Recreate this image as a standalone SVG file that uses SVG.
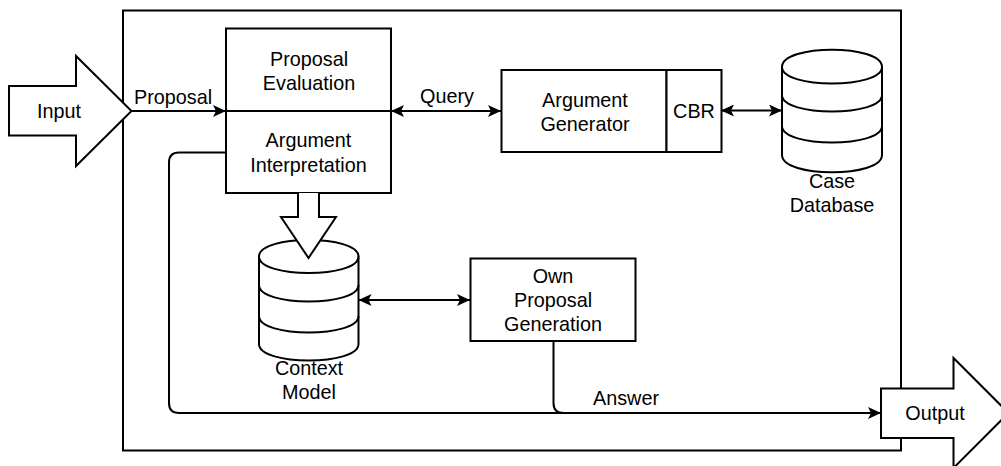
<svg xmlns="http://www.w3.org/2000/svg" width="1001" height="466" viewBox="0 0 1001 466">
<defs>
<style>
.s{fill:#fff;stroke:#000;stroke-width:2}
.n{fill:none;stroke:#000;stroke-width:2}
.c{fill:none;stroke:#000;stroke-width:2}
text{font-family:"Liberation Sans",Arial,sans-serif;font-size:19.8px;fill:#000;text-anchor:middle}
</style>
<marker id="endA" viewBox="0 0 13 12" refX="13" refY="6" markerWidth="13" markerHeight="12" markerUnits="userSpaceOnUse" orient="auto"><path d="M13 6L0 12L3 6L0 0Z" fill="#000"/></marker>
<marker id="startA" viewBox="0 0 13 12" refX="0" refY="6" markerWidth="13" markerHeight="12" markerUnits="userSpaceOnUse" orient="auto"><path d="M0 6L13 0L10 6L13 12Z" fill="#000"/></marker>
</defs>
<rect id="frame" class="s" x="123" y="10.5" width="778" height="440"/>
<g id="connectors">
<path class="c" marker-end="url(#endA)" d="M132 111H226"/>
<path class="c" marker-start="url(#startA)" marker-end="url(#endA)" d="M391 111H501"/>
<path class="c" marker-start="url(#startA)" marker-end="url(#endA)" d="M721 110.500H782"/>
<path class="c" marker-start="url(#startA)" marker-end="url(#endA)" d="M358.500 300H470"/>
<path class="c" marker-end="url(#endA)" d="M553.500 341V403Q553.500 413 563.500 413H881"/>
<path class="c" d="M226 152.500H179Q169 152.500 169 162.500V403Q169 413 179 413H563"/>
</g>
<text x="173" y="104">Proposal</text>
<text x="447" y="103">Query</text>
<text x="626" y="405">Answer</text>
<g id="input"><path class="s" d="M9 86H76V56L131.500 111L76 166V135.500H9Z"/><text x="59" y="118">Input</text></g>
<g id="proposal-evaluation"><rect class="s" x="226" y="28.500" width="165" height="82.500"/><text x="309" y="66">Proposal</text><text x="309" y="89.500">Evaluation</text></g>
<g id="argument-interpretation"><rect class="s" x="226" y="111" width="165" height="82"/><text x="308.500" y="147">Argument</text><text x="308.500" y="171.500">Interpretation</text></g>
<g id="argument-generator"><rect class="s" x="501.500" y="70" width="165" height="82"/><text x="585" y="107">Argument</text><text x="585" y="131">Generator</text></g>
<g id="cbr"><rect class="s" x="666.500" y="70" width="55" height="82"/><text x="694" y="118">CBR</text></g>
<g id="case-database">
<path class="s" d="M782 67C782 44 882 44 882 67V155C882 178 782 178 782 155Z"/>
<path class="n" d="M782 67C782 89 882 89 882 67M782 95C782 117 882 117 882 95M782 126C782 148 882 148 882 126"/>
<text x="832" y="188">Case</text><text x="832" y="212">Database</text>
</g>
<g id="context-model">
<path class="s" d="M259 256.500C259 234.500 358.500 234.500 358.500 256.500V344C358.500 366 259 366 259 344Z"/>
<path class="n" d="M259 256.500C259 278.500 358.500 278.500 358.500 256.500M259 285C259 307 358.500 307 358.500 285M259 316C259 338 358.500 338 358.500 316"/>
<text x="309" y="375">Context</text><text x="309" y="398.500">Model</text>
</g>
<path id="down-arrow" class="s" d="M298 193V217H281L308.500 258L336 217H319V193"/>
<g id="own-proposal"><rect class="s" x="470.500" y="258.500" width="165" height="82.500"/><text x="553" y="283">Own</text><text x="553" y="307">Proposal</text><text x="553" y="331">Generation</text></g>
<g id="output"><path class="s" d="M881 388.500H953.500V358L1008.500 413L953.500 468V438H881Z"/><text x="935" y="420">Output</text></g>
</svg>
